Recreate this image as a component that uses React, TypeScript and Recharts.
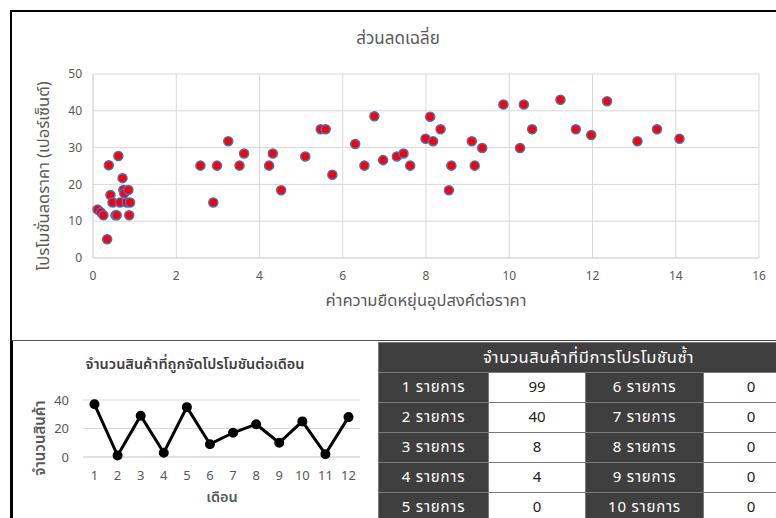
import React from "react";
import {
  ScatterChart,
  Scatter,
  LineChart,
  Line,
  XAxis,
  YAxis,
  ZAxis,
  CartesianGrid,
} from "recharts";

const THAI = "'Noto Sans Thai', Tahoma, 'Noto Sans', 'DejaVu Sans', sans-serif";

// scatter: price elasticity vs average discount
const elasticity = [
  0.11, 0.19, 0.25, 0.34, 0.38, 0.42, 0.47, 0.54, 0.57, 0.61, 0.65, 0.71, 0.73, 0.75, 0.85, 0.81, 0.89, 0.87,
  2.58, 2.89, 2.98, 3.25, 3.52, 3.63, 4.23, 4.32, 4.52, 5.1, 5.47, 5.59, 5.75, 6.3, 6.52, 6.76, 6.97, 7.3,
  7.46, 7.62, 7.99, 8.1, 8.17, 8.35, 8.55, 8.61, 9.1, 9.17, 9.35, 9.86, 10.26, 10.35, 10.55, 11.23, 11.6,
  11.97, 12.35, 13.08, 13.55, 14.09,
];
const discount = [
  13.2, 12.4, 11.6, 5.1, 25.2, 17.1, 15.1, 11.6, 11.6, 27.7, 15.1, 21.7, 18.5, 17.6, 18.5, 15.1, 15.1, 11.6,
  25.1, 15.1, 25.1, 31.7, 25.1, 28.4, 25.1, 28.4, 18.4, 27.6, 35.0, 35.0, 22.6, 31.0, 25.1, 38.5, 26.6, 27.6,
  28.4, 25.1, 32.4, 38.4, 31.7, 35.0, 18.4, 25.1, 31.7, 25.1, 29.9, 41.7, 29.9, 41.7, 35.0, 43.0, 35.0,
  33.4, 42.6, 31.7, 35.0, 32.4,
];
const xTicks = [0, 2, 4, 6, 8, 10, 12, 14, 16];
const yTicks = [0, 5, 10, 15, 20, 25, 30, 35, 40, 45, 50];

// line: promoted products per month
const months = ["1", "2", "3", "4", "5", "6", "7", "8", "9", "10", "11", "12"];
const promoted = [37, 1, 29, 3, 35, 9, 17, 23, 10, 25, 2, 28];

// table: repeated promotions
const repeatLeft = ["1 รายการ", "2 รายการ", "3 รายการ", "4 รายการ", "5 รายการ"];
const repeatLeftVal = [99, 40, 8, 4, 0];
const repeatRight = ["6 รายการ", "7 รายการ", "8 รายการ", "9 รายการ", "10 รายการ"];
const repeatRightVal = [0, 0, 0, 0, 0];

const scatterData = elasticity.map((x, i) => ({ x, y: discount[i] }));
const lineData = months.map((m, i) => ({ month: m, count: promoted[i] }));

const tickStyle = { fill: "#595959", fontSize: 12, fontFamily: THAI };
const lineTickStyle = { fill: "#595959", fontSize: 13, fontFamily: THAI };
const dark = "#3f3f3f";

export default function App() {
  const darkCell: React.CSSProperties = {
    background: dark,
    color: "#fff",
    border: "1px solid #7a7a7a",
    textAlign: "center",
    height: 29,
    padding: 0,
    fontSize: 15,
    letterSpacing: 0.8,
  };
  const whiteCell: React.CSSProperties = {
    background: "#fff",
    color: "#222",
    border: "1px solid #7a7a7a",
    textAlign: "center",
    height: 29,
    padding: 0,
    fontSize: 15,
  };

  return (
    <div
      style={{
        position: "absolute",
        left: 0,
        top: 0,
        width: 776,
        height: 518,
        overflow: "hidden",
        background: "#fff",
        fontFamily: THAI,
      }}
    >
      {/* top chart frame */}
      <div
        style={{
          position: "absolute",
          left: 10,
          top: 10,
          width: 800,
          height: 331,
          borderTop: "2px solid #000",
          borderLeft: "2px solid #000",
          borderBottom: "1px solid #444",
          boxSizing: "border-box",
        }}
      />
      <div style={{ position: "absolute", left: 0, top: 0 }}>
        <ScatterChart width={776} height={340} margin={{ top: 74, right: 17, bottom: 52, left: 63 }}>
          <CartesianGrid stroke="#d9d9d9" />
          <XAxis
            type="number"
            dataKey="x"
            domain={[0, 16]}
            ticks={xTicks}
            tick={tickStyle}
            tickLine={false}
            tickMargin={7}
            axisLine={{ stroke: "#d9d9d9" }}
            height={30}
          />
          <YAxis
            type="number"
            dataKey="y"
            domain={[0, 50]}
            ticks={yTicks}
            tick={tickStyle}
            tickLine={false}
            tickMargin={5}
            axisLine={{ stroke: "#d9d9d9" }}
            width={30}
          />
          <ZAxis range={[42, 42]} />
          <Scatter data={scatterData} fill="#ff0000" stroke="#4472c4" strokeWidth={1.5} isAnimationActive={false} />
        </ScatterChart>
      </div>
      <div style={{ position: "absolute", left: 298, top: 26, width: 200, textAlign: "center", fontSize: 17, color: "#595959" }}>
        ส่วนลดเฉลี่ย
      </div>
      <div style={{ position: "absolute", left: 276, top: 288, width: 300, textAlign: "center", fontSize: 16.5, color: "#595959" }}>
        ค่าความยืดหยุ่นอุปสงค์ต่อราคา
      </div>
      <div
        style={{
          position: "absolute",
          left: 43 - 120,
          top: 176 - 12,
          width: 240,
          height: 24,
          textAlign: "center",
          fontSize: 16.5,
          color: "#595959",
          transform: "rotate(-90deg)",
          whiteSpace: "nowrap",
        }}
      >
        โปรโมชั่นลดราคา (เปอร์เซ็นต์)
      </div>

      {/* bottom-left line chart */}
      <div
        style={{
          position: "absolute",
          left: 10,
          top: 340,
          width: 368,
          height: 190,
          borderLeft: "3px solid #000",
          borderTop: "1px solid #555",
          boxSizing: "border-box",
        }}
      />
      <div style={{ position: "absolute", left: 12, top: 342 }}>
        <LineChart width={366} height={176} data={lineData} margin={{ top: 58, right: 18, bottom: 31, left: 41 }}>
          <CartesianGrid stroke="#d9d9d9" vertical={false} />
          <XAxis
            dataKey="month"
            tick={lineTickStyle}
            tickLine={false}
            tickMargin={8}
            axisLine={{ stroke: "#d9d9d9" }}
            padding={{ left: 11.5, right: 11.5 }}
            height={30}
            interval={0}
          />
          <YAxis
            domain={[0, 40]}
            ticks={[0, 20, 40]}
            tick={lineTickStyle}
            tickLine={false}
            tickMargin={8}
            axisLine={false}
            width={30}
          />
          <Line
            type="linear"
            dataKey="count"
            stroke="#000"
            strokeWidth={3}
            dot={{ r: 3.5, fill: "#000", stroke: "#000" }}
            isAnimationActive={false}
          />
        </LineChart>
      </div>
      <div style={{ position: "absolute", left: 45, top: 354, width: 300, textAlign: "center", fontSize: 14.5, fontWeight: 600, color: "#404040" }}>
        จำนวนสินค้าที่ถูกจัดโปรโมชันต่อเดือน
      </div>
      <div style={{ position: "absolute", left: 172, top: 487, width: 100, textAlign: "center", fontSize: 14.5, fontWeight: 600, color: "#595959" }}>
        เดือน
      </div>
      <div
        style={{
          position: "absolute",
          left: 40 - 60,
          top: 438 - 11,
          width: 120,
          height: 22,
          textAlign: "center",
          fontSize: 15,
          fontWeight: 600,
          color: "#595959",
          transform: "rotate(-90deg)",
          whiteSpace: "nowrap",
        }}
      >
        จำนวนสินค้า
      </div>

      {/* bottom-right table */}
      <table
        style={{
          position: "absolute",
          left: 378,
          top: 342,
          width: 420,
          borderCollapse: "collapse",
          fontFamily: THAI,
          tableLayout: "fixed",
        }}
      >
        <colgroup>
          <col style={{ width: 110 }} />
          <col style={{ width: 97 }} />
          <col style={{ width: 118 }} />
          <col style={{ width: 95 }} />
        </colgroup>
        <tbody>
          <tr>
            <td colSpan={4} style={{ ...darkCell, height: 29, fontSize: 16.5, letterSpacing: 0.6 }}>
              จำนวนสินค้าที่มีการโปรโมชันซ้ำ
            </td>
          </tr>
          {repeatLeft.map((label, i) => (
            <tr key={label}>
              <td style={darkCell}>{label}</td>
              <td style={whiteCell}>{repeatLeftVal[i]}</td>
              <td style={darkCell}>{repeatRight[i]}</td>
              <td style={whiteCell}>{repeatRightVal[i]}</td>
            </tr>
          ))}
        </tbody>
      </table>
    </div>
  );
}
